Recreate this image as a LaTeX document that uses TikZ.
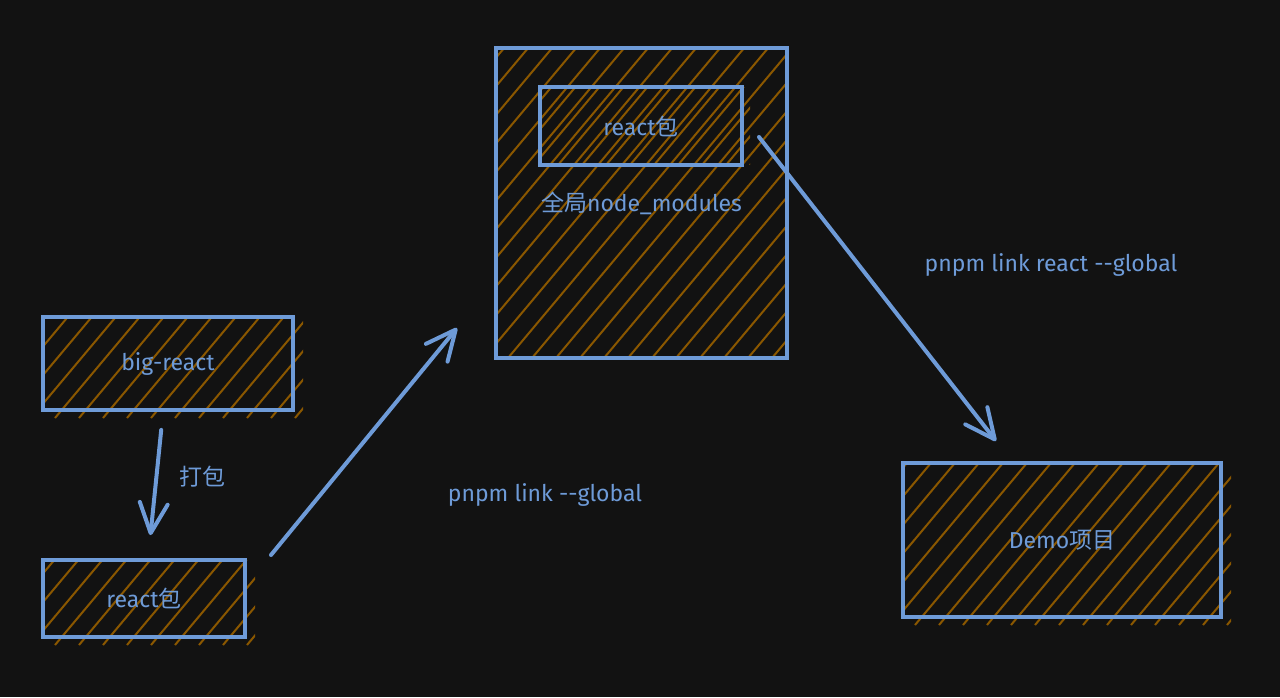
\documentclass[tikz,border=0pt]{standalone}
\usepackage{fontspec}
\setmainfont{Fira Sans}
\newfontfamily\cjk{Noto Sans CJK SC}
\usetikzlibrary{arrows.meta}

\definecolor{bgcol}{HTML}{121212}
\definecolor{linecol}{HTML}{6E9BD8}
\definecolor{hatchcol}{HTML}{8A5700}

\tikzset{
  box/.style={draw=linecol, line width=4pt, inner sep=0pt, text=linecol,
    font=\fontsize{23}{27}\selectfont},
  hatch/.style={path picture={
    \foreach \i in {-420,-396,...,420}
      \draw[hatchcol, line width=2pt]
        ([xshift=\i pt+#1 pt]path picture bounding box.south west) -- ++(50:700pt);}},
  hatch/.default=0,
  link/.style={draw=linecol, line width=4pt, line cap=round,
    -{Straight Barb[length=30pt,width=28pt,round]}},
  txt/.style={text=linecol, font=\fontsize{23}{27}\selectfont}
}

\begin{document}
\begin{tikzpicture}[x=1pt, y=-1pt]
    \fill[bgcol] (0,0) rectangle (1280,697);

    % hatching, a bit past the borders
    \path[hatch] (43,317) rectangle (303,418);
    \path[hatch] (43,560) rectangle (255,645);
    \path[hatch] (496,48) rectangle (787,358);
    \path[hatch=6] (540,87) rectangle (750,165);
    \path[hatch] (903,463) rectangle (1231,625);

    \node[box, minimum width=250pt, minimum height=93pt] (bigreact) at (168,363.5) {big-react};
    \node[box, minimum width=202pt, minimum height=77pt] (pkg) at (144,598.5) {react{\cjk 包}};
    \node[box, minimum width=291pt, minimum height=310pt] (global) at (641.5,203) {{\cjk 全局}node\_modules};
    \node[box, minimum width=202pt, minimum height=78pt] (globalpkg) at (641,126) {react{\cjk 包}};
    \node[box, minimum width=318pt, minimum height=154pt] (demo) at (1062,540) {Demo{\cjk 项目}};

    \draw[link, shorten <=18pt, shorten >=23pt] (bigreact) -- (pkg);
    \draw[link] ([xshift=24pt,yshift=3pt]pkg.north east) -- ([xshift=-37pt,yshift=-125pt]global.west);
    \draw[link] ([xshift=15pt,yshift=-11pt]globalpkg.east) -- ([xshift=-66pt,yshift=20pt]demo.north);

    \node[txt] (pack) at (202,477) {{\cjk 打包}};
    \node[txt] (linkglobal) at (545,495) {pnpm link -{}-global};
    \node[txt] (linkreact) at (1051,265) {pnpm link react -{}-global};
\end{tikzpicture}
\end{document}
